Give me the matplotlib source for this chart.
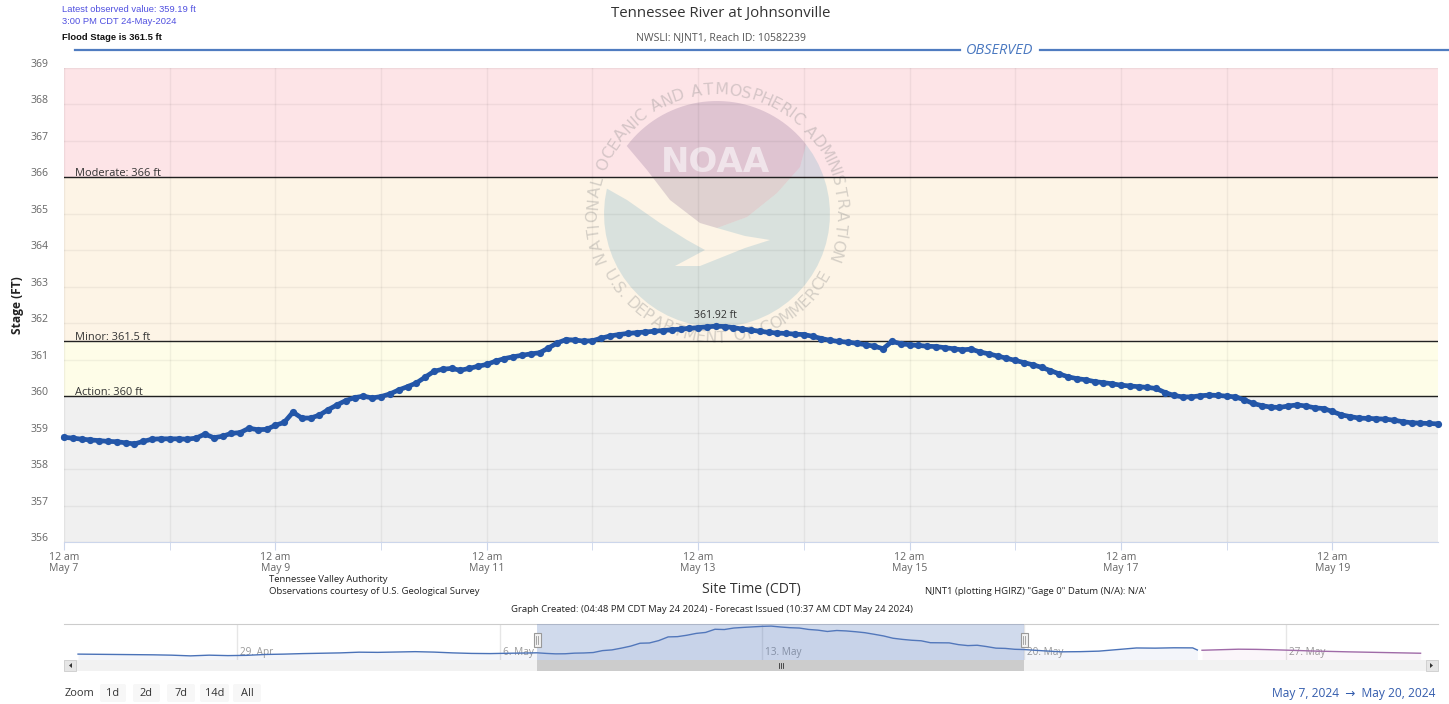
import matplotlib
matplotlib.use('Agg')
import matplotlib.pyplot as plt
import numpy as np
import pandas as pd
import matplotlib.transforms as mtransforms
from matplotlib.patches import Polygon, Rectangle, FancyBboxPatch
from matplotlib.lines import Line2D
from matplotlib.textpath import TextPath
from matplotlib.font_manager import FontProperties

# ---------------- data ----------------
title = "Tennessee River at Johnsonville"
subtitle = "NWSLI: NJNT1, Reach ID: 10582239"
latest_value = 359.19
latest_time = pd.Timestamp("2024-05-24 15:00")
flood_stage = 361.5
action_stage = 360.0
minor_stage = 361.5
moderate_stage = 366.0
y_ticks = list(range(356, 370))

# observed stage (ft), every 2 hours from 12 am May 7, 2024
stage = [
    358.87, 358.85, 358.82, 358.80, 358.78, 358.76, 358.75, 358.72, 358.69, 358.76, 358.82, 358.83,
    358.83, 358.83, 358.82, 358.85, 358.96, 358.86, 358.90, 358.98, 359.00, 359.12, 359.08, 359.09,
    359.20, 359.28, 359.56, 359.40, 359.40, 359.48, 359.63, 359.76, 359.88, 359.96, 360.00, 359.95,
    359.99, 360.06, 360.17, 360.26, 360.36, 360.52, 360.68, 360.74, 360.76, 360.71, 360.76, 360.82,
    360.87, 360.96, 361.03, 361.08, 361.12, 361.16, 361.19, 361.32, 361.46, 361.55, 361.54, 361.51,
    361.52, 361.59, 361.65, 361.69, 361.72, 361.74, 361.76, 361.78, 361.80, 361.82, 361.84, 361.86,
    361.88, 361.90, 361.92, 361.91, 361.88, 361.84, 361.81, 361.78, 361.75, 361.73, 361.72, 361.70,
    361.69, 361.64, 361.58, 361.53, 361.50, 361.48, 361.45, 361.41, 361.37, 361.30, 361.50, 361.44,
    361.41, 361.39, 361.37, 361.36, 361.33, 361.30, 361.27, 361.29, 361.21, 361.16, 361.10, 361.04,
    360.98, 360.92, 360.86, 360.79, 360.70, 360.61, 360.53, 360.48, 360.45, 360.40, 360.37, 360.34,
    360.30, 360.28, 360.26, 360.24, 360.21, 360.10, 360.02, 359.98, 359.98, 360.01, 360.03, 360.02,
    360.00, 359.98, 359.90, 359.80, 359.74, 359.70, 359.69, 359.73, 359.76, 359.73, 359.68, 359.66,
    359.58, 359.49, 359.44, 359.40, 359.39, 359.38, 359.37, 359.34, 359.30, 359.27, 359.26, 359.25,
    359.24,
]
times = pd.date_range("2024-05-07 00:00", periods=len(stage), freq="2h")

# navigator: observed before the window (every 12 h from Apr 24 6 pm)
nav_before = [358.72, 358.70, 358.68, 358.66, 358.64, 358.60, 358.52, 358.60, 358.55, 358.58,
              358.68, 358.72, 358.78, 358.82, 358.86, 358.94, 358.92, 358.96, 359.00, 358.95,
              358.86, 358.80, 358.78, 358.82, 358.85]
nav_before_t = pd.date_range("2024-04-24 18:00", periods=len(nav_before), freq="12h")
# navigator: observed after the window (every 12 h from May 20 noon)
nav_after = [359.10, 358.98, 359.00, 359.06, 359.24, 359.42, 359.40, 359.44, 359.43]
nav_after_t = pd.date_range("2024-05-20 12:00", periods=len(nav_after), freq="12h")
# navigator: forecast
forecast = [359.16, 359.22, 359.28, 359.26, 359.21, 359.15, 359.08, 359.03, 358.98, 358.94,
            358.90, 358.86, 358.82]
forecast_t = pd.date_range("2024-05-24 18:00", "2024-05-30 14:00", periods=len(forecast))

x_tick_days = pd.date_range("2024-05-07", "2024-05-19", freq="2D")
x_tick_labels = ["12 am\nMay 7", "12 am\nMay 9", "12 am\nMay 11", "12 am\nMay 13",
                 "12 am\nMay 15", "12 am\nMay 17", "12 am\nMay 19"]
nav_weeks = pd.to_datetime(["2024-04-29", "2024-05-06", "2024-05-13", "2024-05-20", "2024-05-27"])
nav_week_labels = ["29. Apr", "6. May", "13. May", "20. May", "27. May"]
view_start = pd.Timestamp("2024-05-07")
view_end = pd.Timestamp("2024-05-20")
nav_range = (pd.Timestamp("2024-04-24 09:00"), pd.Timestamp("2024-05-31 01:10"))

# ---------------- figure ----------------
W, H = 1449, 704
plt.rcParams['font.family'] = ['Open Sans', 'DejaVu Sans']
fig = plt.figure(figsize=(W / 100, H / 100), dpi=100)
PX = mtransforms.Affine2D().scale(1 / W, -1 / H).translate(0, 1) + fig.transFigure


def fr(x0, y0, x1, y1):
    return [x0 / W, 1 - y1 / H, (x1 - x0) / W, (y1 - y0) / H]


def pt(px):
    return px * 0.72


ax = fig.add_axes(fr(64, 68, 1438, 542))
ax.set_xlim(view_start, view_end)
ax.set_ylim(356, 369)

# flood category bands
ax.axhspan(moderate_stage, 369, color="#fde4e7", zorder=0, lw=0)
ax.axhspan(minor_stage, moderate_stage, color="#fdf4e6", zorder=0, lw=0)
ax.axhspan(action_stage, minor_stage, color="#fefde8", zorder=0, lw=0)
ax.axhspan(356, action_stage, color="#f0f0f0", zorder=0, lw=0)

# ---- NOAA watermark (pixel coordinates) ----
cx, cy, r = 717, 214, 113


def arc(a0, a1, n=40, rad=r):
    a = np.radians(np.linspace(a0, a1, n))
    return [(cx + rad * np.cos(t), cy - rad * np.sin(t)) for t in a]


blue_poly = arc(167, 398) + [(800, 167), (777, 193), (747, 217), (717, 228), (745, 236), (770, 240),
                             (745, 248), (725, 256), (700, 266), (675, 266), (690, 258), (705, 250),
                             (687, 240), (660, 223), (627, 200)]
mauve_poly = arc(143, 38) + [(800, 167), (777, 193), (747, 217), (717, 228), (700, 223), (670, 200),
                             (647, 170)]
ax.add_patch(Polygon(blue_poly, closed=True, transform=PX, facecolor="#5da0be", alpha=0.22,
                     lw=0, zorder=1))
ax.add_patch(Polygon(mauve_poly, closed=True, transform=PX, facecolor="#58356f", alpha=0.18,
                     lw=0, zorder=1))
ax.text(716, 162, "NOAA", transform=PX, ha="center", va="center", fontsize=pt(34),
        fontweight="bold", color="white", alpha=0.55, zorder=1, family="DejaVu Sans Condensed")

ring_col = (0.55, 0.55, 0.55)
ring_fp = FontProperties(family="DejaVu Sans", size=10)


def char_widths(s):
    w = []
    for ch in s:
        if ch == " ":
            w.append(4.0)
        else:
            w.append(TextPath((0, 0), ch, prop=ring_fp).get_extents().width + 1.6)
    return np.array(w)


def ring_text(s, a_start, a_end, rot_off):
    w = char_widths(s)
    centers = np.cumsum(w) - w / 2
    frac = (centers - centers[0]) / (centers[-1] - centers[0])
    for ch, f in zip(s, frac):
        a = a_start + (a_end - a_start) * f
        t = np.radians(a)
        ax.text(cx + 124 * np.cos(t), cy - 124 * np.sin(t), ch, transform=PX, rotation=a + rot_off,
                rotation_mode="anchor", ha="center", va="center", fontsize=pt(16), color=ring_col,
                alpha=0.35, zorder=1, family="DejaVu Sans")


ring_text("NATIONAL OCEANIC AND ATMOSPHERIC ADMINISTRATION", 200, -20, -90)
ring_text("U.S. DEPARTMENT OF COMMERCE", 210, 330, 90)

# grid / ticks
ax.set_yticks(y_ticks)
ax.set_yticklabels([str(v) for v in y_ticks])
ax.set_xticks(x_tick_days)
ax.set_xticklabels(x_tick_labels)
ax.set_xticks(pd.date_range("2024-05-08", "2024-05-19", freq="2D"), minor=True)
ax.grid(True, axis="y", color="#000000", alpha=0.05, lw=1, zorder=1.5)
ax.grid(True, axis="x", which="both", color="#000000", alpha=0.05, lw=1, zorder=1.5)
ax.set_axisbelow(False)
for s in ["top", "left", "right"]:
    ax.spines[s].set_visible(False)
ax.spines["bottom"].set_color("#ccd6eb")
ax.tick_params(axis="x", which="both", length=6, color="#ccd6eb", labelsize=pt(10.5),
               labelcolor="#666666", pad=1)
ax.tick_params(axis="y", length=0, labelsize=pt(10.5), labelcolor="#666666", pad=11)
for lab in ax.get_xticklabels():
    lab.set_linespacing(1.05)
shift = mtransforms.ScaledTranslation(0, 5 / 100, fig.dpi_scale_trans)
for lab in ax.get_yticklabels():
    lab.set_transform(lab.get_transform() + shift)

# threshold lines
bt = mtransforms.blended_transform_factory(ax.transAxes, ax.transData)
for val, name in [(moderate_stage, "Moderate"), (minor_stage, "Minor"), (action_stage, "Action")]:
    ax.axhline(val, color="#222222", lw=1, zorder=2)
    lbl = f"{name}: {val:g} ft"
    ax.text(11 / 1374, val, lbl,
            transform=bt + mtransforms.ScaledTranslation(0, -2 / 100, fig.dpi_scale_trans),
            ha="left", va="bottom", fontsize=pt(11), color="#333333", zorder=2)

# observed series
ax.plot(times, stage, color="#2356a8", lw=3.4, marker="o", markersize=5.2, markeredgewidth=0,
        zorder=3, clip_on=False)
imax = int(np.argmax(stage))
ax.annotate(f"{stage[imax]:.2f} ft", (times[imax], stage[imax]), xytext=(0, 4),
            textcoords="offset points", ha="center", va="bottom", fontsize=pt(10.5), color="#333333",
            zorder=4)

# ---------------- header texts ----------------
hdr = dict(fontsize=pt(9.4), va="center", family="Liberation Sans")
fig.text(62 / W, 1 - 9 / H, f"Latest observed value: {latest_value:.2f} ft", color="#5050e0", **hdr)
fig.text(62 / W, 1 - 22 / H, latest_time.strftime("%-I:%M %p CDT %d-%b-%Y"), color="#5050e0", **hdr)
fig.text(62 / W, 1 - 37 / H, f"Flood Stage is {flood_stage} ft", color="#111111",
         fontweight="bold", **hdr)
fig.text(721 / W, 1 - 13 / H, title, fontsize=pt(15), color="#333333", ha="center", va="center")
fig.text(721 / W, 1 - 38 / H, subtitle, fontsize=pt(10.5), color="#555555", ha="center", va="center")
fig.add_artist(Line2D([75, 960], [50, 50], transform=PX, color="#4f7cc0", lw=1.6))
fig.add_artist(Line2D([1040, 1449], [50, 50], transform=PX, color="#4f7cc0", lw=1.6))
fig.text(1000 / W, 1 - 51 / H, "OBSERVED", fontsize=pt(14.5), color="#4a78c0", style="italic",
         ha="center", va="center")
fig.text(17 / W, 1 - 305 / H, "Stage (FT)", rotation=90, fontsize=pt(12), fontweight="bold",
         color="#222222", ha="center", va="center")

# ---------------- footer texts ----------------
fig.text(751 / W, 1 - 590 / H, "Site Time (CDT)", fontsize=pt(14), color="#333333", ha="center",
         va="center")
ft = dict(fontsize=pt(9.5), color="#222222", va="center")
fig.text(269 / W, 1 - 579 / H, "Tennessee Valley Authority", ha="left", **ft)
fig.text(269 / W, 1 - 592 / H, "Observations courtesy of U.S. Geological Survey", ha="left", **ft)
fig.text(925 / W, 1 - 592 / H, "NJNT1 (plotting HGIRZ) \"Gage 0\" Datum (N/A): N/A'", ha="left", **ft)
fig.text(712 / W, 1 - 610 / H,
         "Graph Created: (04:48 PM CDT May 24 2024) - Forecast Issued (10:37 AM CDT May 24 2024)",
         ha="center", **ft)

# ---------------- navigator ----------------
nav = fig.add_axes(fr(64, 624, 1438, 660))
nav_lo, nav_hi = 358.05, 362.15
nav.set_xlim(*nav_range)
nav.set_ylim(nav_lo, nav_hi)
nav.set_xticks([])
nav.set_yticks([])
for s in ["left", "right", "bottom"]:
    nav.spines[s].set_visible(False)
nav.spines["top"].set_color("#cccccc")
obs_t = list(nav_before_t) + list(times[::3]) + list(nav_after_t) + [latest_time]
obs_v = nav_before + stage[::3] + nav_after + [latest_value]
ntr = mtransforms.blended_transform_factory(nav.transData, nav.transAxes)
for wk, wl in zip(nav_weeks, nav_week_labels):
    nav.axvline(wk, color="#e6e6e6", lw=1, zorder=0)
    nav.text(wk, 0.22, wl, transform=ntr + mtransforms.ScaledTranslation(3 / 100, 0, fig.dpi_scale_trans),
             fontsize=pt(10), color="#999999", ha="left", va="center", zorder=1)
nav.fill_between(obs_t, obs_v, nav_lo, color="#335cad", alpha=0.06, lw=0, zorder=1)
nav.plot(obs_t, obs_v, color="#4a72b8", lw=1, zorder=2)
nav.fill_between(forecast_t, forecast, nav_lo, color="#c060a0", alpha=0.05, lw=0, zorder=1)
nav.plot(forecast_t, forecast, color="#a06aa8", lw=1, zorder=2)
nav.axvspan(view_start, view_end, color=(102 / 255, 133 / 255, 194 / 255), alpha=0.3, lw=0, zorder=3)

# scrollbar
sb = fig.add_axes(fr(64, 660, 1438, 671))
sb.set_xlim(*nav_range)
sb.set_ylim(0, 1)
sb.axis("off")
sb.add_patch(Rectangle((0, 0), 1, 1, transform=sb.transAxes, facecolor="#f2f2f2", lw=0))
sb.axvspan(view_start, view_end, color="#cccccc", lw=0)

# navigator handles at the window edges (pixel positions follow the navigator scale)
for edge in [view_start, view_end]:
    hx = nav.transData.transform((matplotlib.dates.date2num(edge), 0))[0] / fig.dpi * 100
    fig.add_artist(Rectangle((hx - 3.5, 633), 7, 14, transform=PX, facecolor="#f2f2f2",
                             edgecolor="#999999", lw=0.8))
    for dx in [-1, 1]:
        fig.add_artist(Line2D([hx + dx, hx + dx], [636, 644], transform=PX, color="#999999", lw=0.6))
mid = nav.transData.transform((matplotlib.dates.date2num(view_start + (view_end - view_start) / 2), 0))[0]
mid = mid / fig.dpi * 100
for dx in [-2, 0, 2]:
    fig.add_artist(Line2D([mid + dx, mid + dx], [663, 668], transform=PX, color="#333333", lw=0.6))

fig.add_artist(Rectangle((64, 660), 12, 11, transform=PX, facecolor="#e6e6e6", edgecolor="#cccccc", lw=0.6))
fig.add_artist(Rectangle((1426, 660), 12, 11, transform=PX, facecolor="#e6e6e6", edgecolor="#cccccc", lw=0.6))
fig.add_artist(Polygon([(72, 663), (72, 668), (69, 665.5)], transform=PX, facecolor="#333333", lw=0))
fig.add_artist(Polygon([(1430, 663), (1430, 668), (1433, 665.5)], transform=PX, facecolor="#333333", lw=0))

# range selector
fig.text(65 / W, 1 - 693 / H, "Zoom", fontsize=pt(11), color="#333333", ha="left", va="center")
for lbl, x0, x1 in [("1d", 100, 126), ("2d", 133, 160), ("7d", 167, 195), ("14d", 200, 229), ("All", 233, 261)]:
    fig.add_artist(FancyBboxPatch((x0, 684), x1 - x0, 18, boxstyle="round,pad=0,rounding_size=2",
                                  transform=PX, facecolor="#f7f7f7", edgecolor="none"))
    fig.text((x0 + x1) / 2 / W, 1 - 693 / H, lbl, fontsize=pt(11), color="#333333", ha="center",
             va="center")
fig.text(1435 / W, 1 - 693 / H,
         f"{view_start.strftime('%b')} {view_start.day}, {view_start.year}  \u2192  "
         f"{view_end.strftime('%b')} {view_end.day}, {view_end.year}",
         fontsize=pt(12), color="#335cad", ha="right", va="center")

fig.savefig("out.png", dpi=100)
